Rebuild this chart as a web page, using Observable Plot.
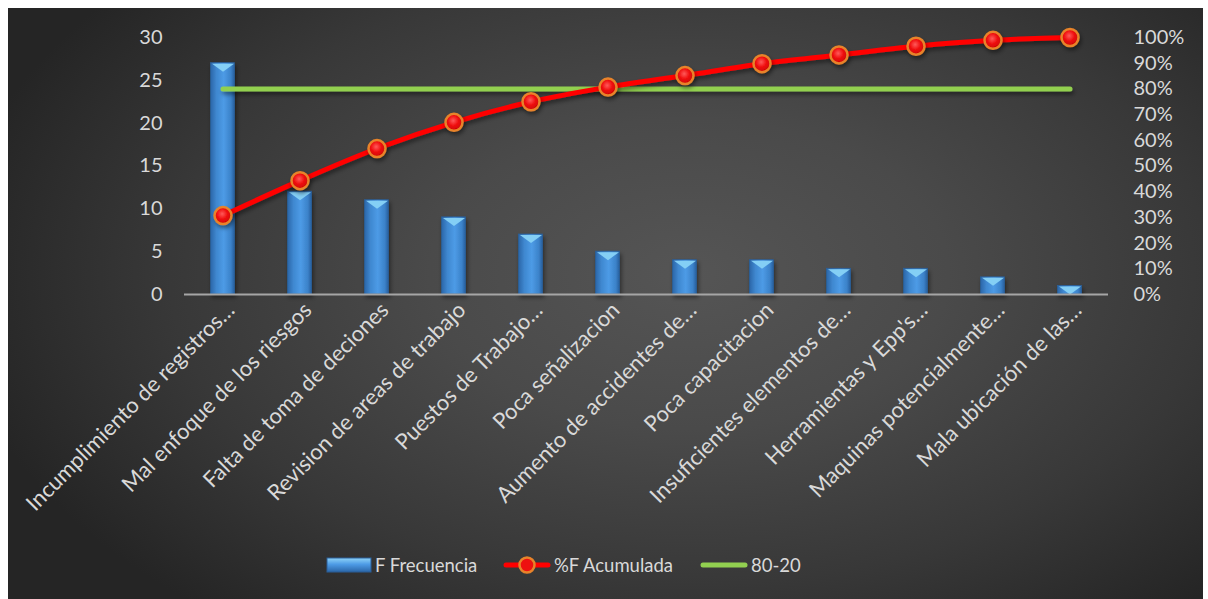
<!DOCTYPE html>
<html><head><meta charset="utf-8">
<script src="https://cdn.jsdelivr.net/npm/d3@7"></script>
<script src="https://cdn.jsdelivr.net/npm/@observablehq/plot@0.6"></script>
<style>
html,body{margin:0;padding:0;background:#fff;width:1208px;height:599px;overflow:hidden;font-family:Lato,"Open Sans",sans-serif}
#panel{position:absolute;left:8px;top:8px;width:1195px;height:591px;
  background:radial-gradient(ellipse 62% 75% at 57% 45%, #555555 0%, #4a4a4a 35%, #383838 70%, #252525 100%);}
#chart{position:absolute;left:0;top:0}
#legend{position:absolute;left:0;top:539px;width:1195px;height:36px;color:#d9d9d9;font-size:18.5px}
.li{position:absolute;top:0;height:36px;display:flex;align-items:center}
</style></head>
<body>
<div id="panel"><div id="chart"></div><div id="legend"></div></div>
<script>
const categories = [
  "Incumplimiento de registros…",
  "Mal enfoque de los riesgos",
  "Falta de toma de deciones",
  "Revision de areas de trabajo",
  "Puestos de Trabajo…",
  "Poca señalizacion",
  "Aumento de accidentes de…",
  "Poca capacitacion",
  "Insuficientes elementos de…",
  "Herramientas y Epp's…",
  "Maquinas potencialmente…",
  "Mala ubicación de las…"
];
const frecuencia = [27, 12, 11, 9, 7, 5, 4, 4, 3, 3, 2, 1];
const acumulada = [30.7, 44.3, 56.8, 67.0, 75.0, 80.7, 85.2, 89.8, 93.2, 96.6, 98.9, 100];
const regla = [80, 80, 80, 80, 80, 80, 80, 80, 80, 80, 80, 80];
const leftTicks = [0, 5, 10, 15, 20, 25, 30];
const rightTicks = [0, 10, 20, 30, 40, 50, 60, 70, 80, 90, 100];
const seriesNames = ["F Frecuencia", "%F Acumulada", "80-20"];

const yMax = 30;
const k = yMax / 100; // percent -> primary axis units
const rows = categories.map((c, i) => ({i, cat: c, f: frecuencia[i], acc: acumulada[i] * k, rg: regla[i] * k}));

// flattened downward triangle for the bar-top bevel
const bevel = {draw(ctx) { ctx.moveTo(-11, 0); ctx.lineTo(11, 0); ctx.lineTo(0, 8); ctx.closePath(); }};

const plot = Plot.plot({
  width: 1195,
  height: 540,
  marginLeft: 176,
  marginRight: 95,
  marginTop: 29,
  marginBottom: 254,
  style: {background: "transparent", color: "#d9d9d9", fontFamily: "Lato, 'Open Sans', sans-serif", overflow: "visible"},
  x: {type: "linear", domain: [-0.5, categories.length - 0.5], label: null},
  y: {domain: [0, yMax], label: null},
  marks: [
    Plot.rectY(rows, {x1: d => d.i - 0.5, x2: d => d.i + 0.5, y: "f", insetLeft: 26.5, insetRight: 26.5,
      fill: "url(#barGrad)", stroke: "#2a5f99", strokeWidth: 0.8}),
    Plot.dot(rows, {x: "i", y: "f", symbol: bevel, fill: "#84cff5", dy: 0.5}),
    Plot.ruleY([0], {stroke: "#a6a6a6", strokeWidth: 2}),
    Plot.line(rows, {x: "i", y: "rg", stroke: "#92d050", strokeWidth: 5, strokeLinecap: "round"}),
    Plot.line(rows, {x: "i", y: "acc", stroke: "#ff0000", strokeWidth: 5, curve: "catmull-rom"}),
    Plot.dot(rows, {x: "i", y: "acc", r: 8.5, fill: "url(#dotGrad)", stroke: "#e8832a", strokeWidth: 2.5}),
    Plot.axisY(leftTicks, {anchor: "left", tickSize: 0, tickPadding: 22, fontSize: 20, label: null}),
    Plot.axisY(rightTicks.map(p => p * k), {anchor: "right", tickSize: 0, tickPadding: 25, fontSize: 20, label: null,
      tickFormat: d => Math.round(d / k) + "%"}),
    Plot.axisX(d3.range(categories.length), {tickRotate: -45, tickSize: 0, tickPadding: 12, dx: 8, fontSize: 22, label: null,
      tickFormat: i => categories[i]})
  ]
});

// defs for gradients and shadows
const svg = d3.select(plot);
const defs = svg.insert("defs", ":first-child");
const bg = defs.append("linearGradient").attr("id", "barGrad").attr("x1", "0").attr("x2", "1").attr("y1", "0").attr("y2", "0");
[["0%", "#2b66a8"], ["25%", "#3f88d0"], ["55%", "#4d9be6"], ["85%", "#3b82c9"], ["100%", "#275d9c"]]
  .forEach(([o, c]) => bg.append("stop").attr("offset", o).attr("stop-color", c));
const dg = defs.append("radialGradient").attr("id", "dotGrad").attr("cx", "45%").attr("cy", "40%").attr("r", "60%");
[["0%", "#ff5a5a"], ["50%", "#f01010"], ["100%", "#c80000"]]
  .forEach(([o, c]) => dg.append("stop").attr("offset", o).attr("stop-color", c));
const sh = defs.append("filter").attr("id", "shadow").attr("filterUnits", "userSpaceOnUse")
  .attr("x", 0).attr("y", 0).attr("width", 1195).attr("height", 540);
sh.append("feDropShadow").attr("dx", 1.5).attr("dy", 3).attr("stdDeviation", 2).attr("flood-color", "#000").attr("flood-opacity", 0.45);
svg.selectAll('g[aria-label="line"]').attr("filter", "url(#shadow)");
svg.selectAll('g[aria-label="rect"]').attr("filter", "url(#shadow)");
const dotGroups = svg.selectAll('g[aria-label="dot"]').nodes();
if (dotGroups.length) d3.select(dotGroups[dotGroups.length - 1]).attr("filter", "url(#shadow)");

document.getElementById("chart").appendChild(plot);

// legend
const legend = document.getElementById("legend");
const items = [
  {x: 318, sw: `<svg width="46" height="16"><defs><linearGradient id="lg1" x1="0" x2="0" y1="0" y2="1"><stop offset="0%" stop-color="#8fd3f7"/><stop offset="45%" stop-color="#4d9be6"/><stop offset="100%" stop-color="#2b66a8"/></linearGradient></defs><rect x="1" y="1" width="44" height="14" fill="url(#lg1)" stroke="#2a5f99" stroke-width="1"/></svg>`, t: seriesNames[0]},
  {x: 495, sw: `<svg width="48" height="22"><line x1="3" x2="45" y1="11" y2="11" stroke="#ff0000" stroke-width="5" stroke-linecap="round"/><circle cx="24" cy="11" r="7.5" fill="#ee1010" stroke="#e8832a" stroke-width="2.5"/></svg>`, t: seriesNames[1]},
  {x: 692, sw: `<svg width="48" height="22"><line x1="3" x2="45" y1="11" y2="11" stroke="#92d050" stroke-width="5" stroke-linecap="round"/></svg>`, t: seriesNames[2]}
];
items.forEach(it => {
  const d = document.createElement("div");
  d.className = "li";
  d.style.left = it.x + "px";
  d.innerHTML = it.sw + `<span style="margin-left:3px">${it.t}</span>`;
  legend.appendChild(d);
});
</script>
</body></html>
